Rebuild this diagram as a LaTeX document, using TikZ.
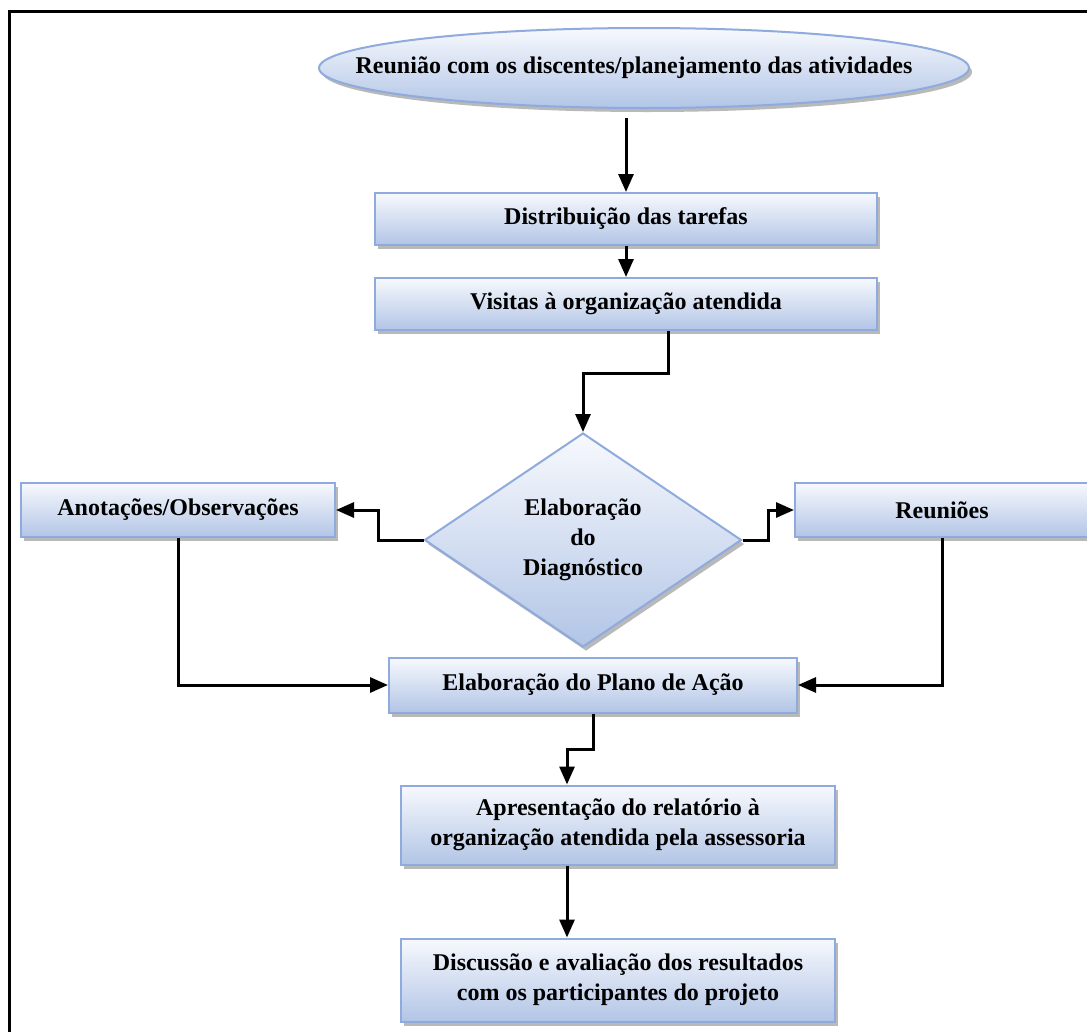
\documentclass[tikz,border=0pt]{standalone}
\usepackage{fontspec}
\setmainfont{Liberation Serif}
\usepackage{tikz}
\usetikzlibrary{arrows.meta,positioning,shapes.geometric,shadows}
\definecolor{boxline}{RGB}{143,170,220}
\definecolor{boxtop}{RGB}{247,249,253}
\definecolor{boxbottom}{RGB}{178,197,230}

\begin{document}
\begin{tikzpicture}[
    x=1pt, y=1pt,
    node distance=85pt,
    >={Triangle[length=18pt,width=15pt]},
    font=\bfseries\fontsize{24}{30}\selectfont,
    etapa/.style={
		rectangle,
		draw=boxline,
		line width=2pt,
		top color=boxtop,
		bottom color=boxbottom,
		drop shadow={shadow xshift=3pt, shadow yshift=-4pt, fill=black!55},
		align=center,
		inner sep=0pt,
		minimum height=52pt
	},
	inicio/.style={
		etapa,
		ellipse,
		minimum width=650pt,
		minimum height=80pt
	},
	decisao/.style={
		etapa,
		diamond,
		minimum width=317pt,
		minimum height=214pt
	},
	seta/.style={
		draw, ->,
		line width=3pt,
		line join=miter
	}
  ]
  \useasboundingbox (0,0) rectangle (1087,-1031);
  % frame round the whole figure
  \draw [line width=3pt] (9,-1045) |- (1100,-11);

  % We start by placing the blocks
  \node [inicio] (reuniao) at (644,-68)
 {\makebox[0pt]{\kern-20pt Reunião com os discentes/planejamento das atividades}};

  \node [etapa, minimum width=502pt] (distrib) at (626,-219)
 {Distribuição das tarefas};

  \node [etapa, minimum width=502pt, below of=distrib] (visitas)
 {Visitas à organização atendida};

  \node [decisao] (diag) at (583,-540)
 {Elaboração\\do\\Diagnóstico};

  \node [etapa, minimum width=314pt, minimum height=54pt] (anot) at (178,-510)
 {Anotações/Observações};

  \node [etapa, minimum width=294pt, minimum height=54pt] (reunioes) at (942,-510)
 {Reuniões};

  \node [etapa, minimum width=408pt, minimum height=55pt] (plano) at (593,-685)
 {Elaboração do Plano de Ação};

  \node [etapa, minimum width=434pt, minimum height=79pt] (apres) at (618,-825)
 {Apresentação do relatório à\\organização atendida pela assessoria};

  \node [etapa, minimum width=434pt, minimum height=83pt, below of=apres, node distance=155pt] (discus)
 {Discussão e avaliação dos resultados\\com os participantes do projeto};

 % connectors
 \draw [seta] ([yshift=-9pt]reuniao.south -| distrib.north) -- (distrib.north);
 \draw [seta] (distrib) -- (visitas);
 \draw [seta] ([xshift=42pt]visitas.south) -- ++(0,-42) -| (diag.north);
 \draw [seta] (diag.west) -- ++(-45,0) |- (anot.east);
 \draw [seta] (diag.east) -- ++(26,0) |- (reunioes.west);
 \draw [seta] (anot.south) |- (plano.west);
 \draw [seta] (reunioes.south) |- (plano.east);
 \draw [seta] (plano.south) -- ++(0,-36) -| ([xshift=-51pt]apres.north);
 \draw [seta] ([xshift=-51pt]apres.south) -- ([xshift=-51pt]discus.north);
\end{tikzpicture}
\end{document}
